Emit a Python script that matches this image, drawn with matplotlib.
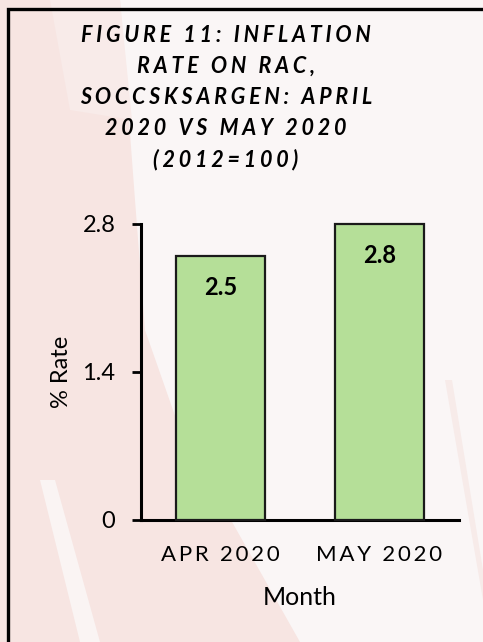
import matplotlib
matplotlib.use("Agg")
import matplotlib.pyplot as plt
from matplotlib.patches import Rectangle, Polygon

months = ["APR 2020", "MAY 2020"]
rates = [2.5, 2.8]
yticks = [0, 1.4, 2.8]
ytick_labels = ["0", "1.4", "2.8"]
title = "FIGURE 11: INFLATION\nRATE ON RAC,\nSOCCSKSARGEN: APRIL\n2020 VS MAY 2020\n(2012=100)"

def spaced(s, sep="\u2009"):
    return "\n".join(sep.join(list(line)) for line in s.split("\n"))

plt.rcParams['font.family'] = ['Lato', 'DejaVu Sans']

W, H = 483, 642
fig = plt.figure(figsize=(W / 100, H / 100), dpi=100)
fig.patch.set_facecolor('#faf6f6')

# background texture approximation
def fpoly(pts, color, z=-10):
    p = Polygon([(px / W, 1 - py / H) for px, py in pts], closed=True,
                transform=fig.transFigure, facecolor=color, edgecolor='none', zorder=z)
    fig.patches.append(p)

fpoly([(0, 0), (120, 0), (135, 200), (145, 330), (180, 430), (300, 642), (0, 642)], '#f7e5e2')
fpoly([(50, 0), (120, 0), (132, 120), (70, 110)], '#f8ebe9', -9)
fpoly([(40, 480), (55, 480), (100, 642), (80, 642)], '#faf4f3', -9)
fpoly([(445, 380), (452, 380), (483, 570), (483, 600)], '#f7ebe9', -9)

# border
border = Rectangle((7.5 / W, -0.1), 1.2, 1 - 8.5 / H + 0.1, transform=fig.transFigure,
                   fill=False, edgecolor='black', linewidth=2.4, zorder=5)
fig.patches.append(border)

ax = fig.add_axes([141 / W, 1 - 520 / H, (459 - 141) / W, (520 - 224) / H])
ax.patch.set_alpha(0)

x = range(len(months))
ax.bar(x, rates, width=0.555, color='#b5df98', edgecolor='#1a1a1a', linewidth=1.6,
       clip_on=False, zorder=3)
for xi, v in zip(x, rates):
    ax.annotate(f"{v:.1f}", (xi, v), xytext=(0, -23), textcoords='offset points',
                ha='center', va='center', fontsize=17, fontweight='bold', zorder=4)

ax.set_xlim(-0.5, 1.5)
ax.set_ylim(0, 2.8)
ax.set_yticks(yticks)
ax.set_yticklabels(ytick_labels, fontsize=17)
ax.set_xticks(list(x))
ax.set_xticklabels([spaced(m) for m in months], fontsize=16)
ax.tick_params(axis='x', length=0, pad=18)
ax.tick_params(axis='y', length=6.5, width=2, pad=12)
for s in ['top', 'right']:
    ax.spines[s].set_visible(False)
for s in ['left', 'bottom']:
    ax.spines[s].set_linewidth(2.2)

ax.set_ylabel("% Rate", fontsize=17)
ax.yaxis.set_label_coords(-0.217, 0.5)
ax.set_xlabel("Month", fontsize=18)
ax.xaxis.set_label_coords(0.5, -0.222)

fig.text(226 / W, 1 - 25 / H, spaced(title, "\u2009\u200a"), ha='center', va='top',
         fontsize=15.5, fontweight='bold', fontstyle='italic', linespacing=1.58)

fig.savefig("out.png", dpi=100, facecolor=fig.get_facecolor())
